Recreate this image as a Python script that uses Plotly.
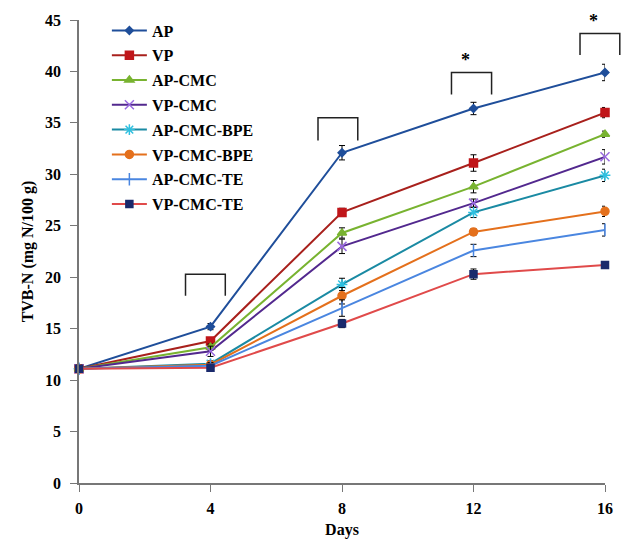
import plotly.graph_objects as go

days = [0, 4, 8, 12, 16]
series_names = ["AP", "VP", "AP-CMC", "VP-CMC", "AP-CMC-BPE", "VP-CMC-BPE", "AP-CMC-TE", "VP-CMC-TE"]
ap = [11.1, 15.2, 32.1, 36.4, 39.9]
vp = [11.1, 13.8, 26.3, 31.1, 36.0]
ap_cmc = [11.1, 13.2, 24.3, 28.8, 33.9]
vp_cmc = [11.1, 12.8, 23.0, 27.2, 31.7]
ap_cmc_bpe = [11.1, 11.6, 19.3, 26.3, 29.9]
vp_cmc_bpe = [11.1, 11.5, 18.2, 24.4, 26.4]
ap_cmc_te = [11.1, 11.4, 17.0, 22.6, 24.6]
vp_cmc_te = [11.1, 11.2, 15.5, 20.3, 21.2]

err_ap = [0.2, 0.3, 0.7, 0.6, 0.8]
err_vp = [0.2, 0.3, 0.4, 0.8, 0.5]
err_ap_cmc = [0.2, 0.3, 0.5, 0.6, 0.3]
err_vp_cmc = [0.2, 0.5, 0.7, 0.4, 0.7]
err_ap_cmc_bpe = [0.2, 0.3, 0.6, 0.5, 0.6]
err_vp_cmc_bpe = [0.2, 0.2, 0.8, 0.3, 0.5]
err_ap_cmc_te = [0.2, 0.3, 0.8, 0.6, 0.6]
err_vp_cmc_te = [0.2, 0.3, 0.4, 0.5, 0.3]

values = [ap, vp, ap_cmc, vp_cmc, ap_cmc_bpe, vp_cmc_bpe, ap_cmc_te, vp_cmc_te]
errors = [err_ap, err_vp, err_ap_cmc, err_vp_cmc, err_ap_cmc_bpe, err_vp_cmc_bpe, err_ap_cmc_te, err_vp_cmc_te]

line_colors = ["#1f4e9a", "#a8201c", "#78b330", "#52288e", "#1a8aa3", "#e4701c", "#4a86e0", "#e04a4a"]
marker_colors = ["#1f4e9a", "#c0161a", "#78b330", "#9a6ae0", "#2ec0e0", "#e4701c", "#4a86e0", "#1a2a6c"]
symbols = ["diamond", "square", "triangle-up", "x-thin-open", "asterisk-open", "circle", "line-ns-open", "square"]
sizes = [6, 8, 8, 9, 9, 8, 9, 7]

# significance brackets: (x_left, x_right, y_top, y_bottom, star)
brackets = [
    (3.24, 4.45, 20.3, 18.2, ""),
    (7.27, 8.48, 35.5, 33.3, ""),
    (11.33, 12.55, 39.9, 37.75, "*"),
    (15.24, 16.45, 43.7, 41.6, "*"),
]

xmin, xmax = 0, 16
ymin, ymax = 0, 45

fig = go.Figure()
for i, name in enumerate(series_names):
    fig.add_trace(go.Scatter(
        x=days, y=values[i], name=name, mode="lines+markers",
        legendgroup=name,
        line=dict(color=line_colors[i], width=2),
        marker=dict(symbol=symbols[i], size=sizes[i], color=marker_colors[i],
                    line=dict(color=marker_colors[i], width=1.5)),
        error_y=dict(type="data", array=errors[i], visible=True, color="black",
                     thickness=1, width=3),
        cliponaxis=False,
    ))

def px(x):
    return (x - xmin) / (xmax - xmin)

def py(y):
    return (y - ymin) / (ymax - ymin)

for xl, xr, yt, yb, star in brackets:
    fig.add_shape(type="path",
                  path=f"M {px(xl)} {py(yb)} L {px(xl)} {py(yt)} L {px(xr)} {py(yt)} L {px(xr)} {py(yb)}",
                  xref="paper", yref="paper", line=dict(color="#222222", width=1.5))
    if star:
        fig.add_annotation(x=px((xl + xr) / 2), y=py(yt), xref="paper", yref="paper",
                           text="*", showarrow=False, yanchor="bottom",
                           font=dict(family="Liberation Serif", size=18, color="black", weight="bold"))

font_family = "Liberation Serif"
fig.update_layout(
    width=621, height=543,
    margin=dict(l=79, r=16, t=20, b=60, autoexpand=False),
    paper_bgcolor="white", plot_bgcolor="white",
    font=dict(family=font_family, size=15, color="black"),
    showlegend=True,
    legend=dict(x=0.053, y=1.014, xanchor="left", yanchor="top",
                font=dict(family=font_family, size=16, color="black", weight="bold"),
                bgcolor="rgba(0,0,0,0)", tracegroupgap=1, itemwidth=35),
    xaxis=dict(range=[xmin, xmax], tickvals=days, automargin=False,
               showline=True, linecolor="#777777", linewidth=1.5, ticks="outside",
               ticklen=7, tickcolor="#777777", showgrid=False, zeroline=False,
               ticklabelstandoff=3,
               title=dict(text="Days", standoff=8, font=dict(size=16, weight="bold")),
               tickfont=dict(size=16, weight="bold")),
    yaxis=dict(range=[ymin, ymax], tickvals=list(range(0, 46, 5)), automargin=False,
               showline=True, linecolor="#777777", linewidth=1.5, ticks="outside",
               ticklen=7, tickcolor="#777777", showgrid=False, zeroline=False,
               ticklabelstandoff=6,
               title=dict(text="TVB-N (mg N/100 g)", standoff=7, font=dict(size=16, weight="bold")),
               tickfont=dict(size=16, weight="bold")),
)

fig.write_html("out.html", config={"displayModeBar": False},
               post_script="document.body.style.margin='0';document.body.style.overflow='hidden';")
